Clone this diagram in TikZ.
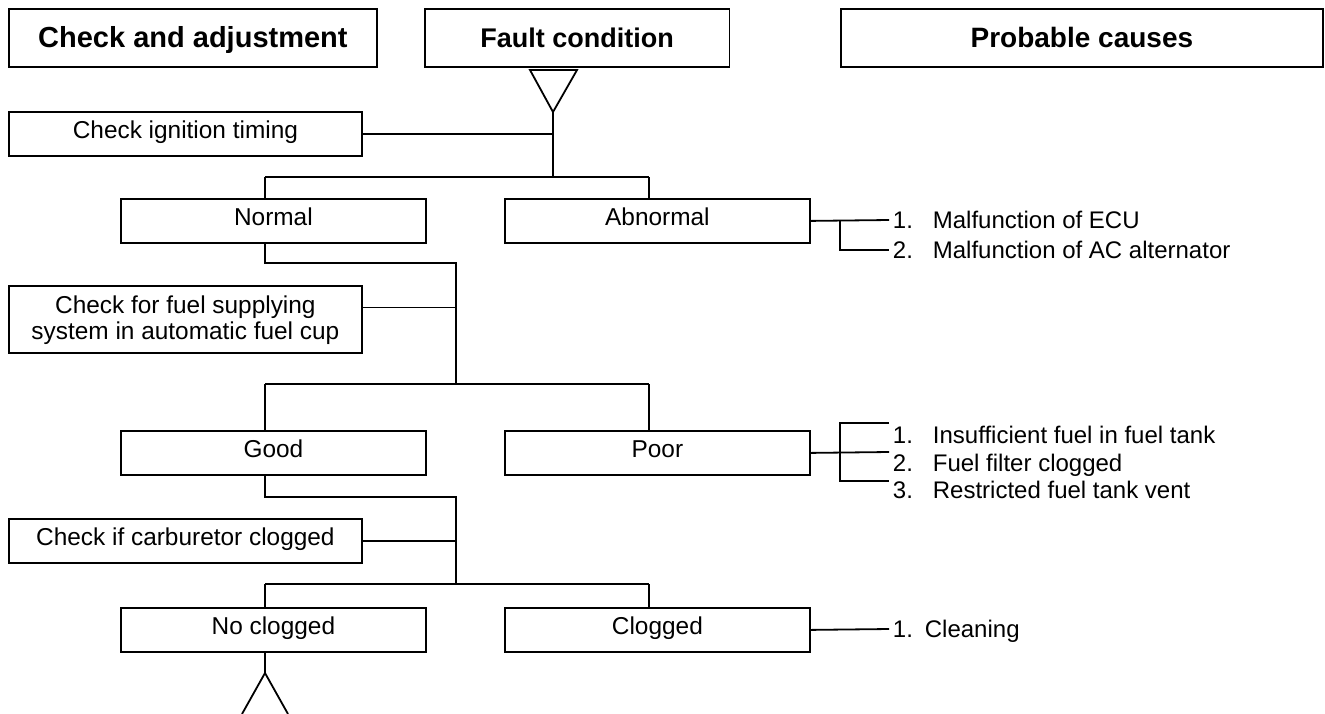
\documentclass[tikz,border=0pt]{standalone}
\usepackage{fontspec}
\setmainfont{Liberation Sans}
\begin{document}
\begin{tikzpicture}[x=1pt,y=-1pt,line width=1.8pt,
  every node/.style={inner sep=0pt},
  frame/.style={draw,line width=1.8pt,anchor=north west,align=center},
  head/.style={frame,minimum height=58pt,text height=39pt,text depth=19pt},
  checkbox/.style={frame,font=\fontsize{24.4}{26}\selectfont,minimum width=353pt,text height=26.5pt,text depth=17.5pt},
  result/.style={frame,font=\fontsize{24.4}{26}\selectfont,minimum width=305pt,text height=26.5pt,text depth=17.5pt},
  cause/.style={anchor=west,inner xsep=3pt,inner ysep=0pt,font=\fontsize{24}{26}\selectfont,text height=17.2pt,text depth=0pt}]
\useasboundingbox (0,0) rectangle (1325,713);
% headers
\node[head,minimum width=368pt,font=\bfseries\fontsize{29}{32}\selectfont] (hA) at (8,8) {Check and adjustment};
\node[head,minimum width=304.5pt,font=\bfseries\fontsize{27}{32}\selectfont] (hB) at (424,8) {Fault condition};
\node[head,minimum width=482pt,font=\bfseries\fontsize{28}{32}\selectfont] (hC) at (840,8) {Probable causes};
% boxes
\node[checkbox] (ign) at (8,111) {Check ignition timing};
\node[result] (normal) at (120,198) {Normal};
\node[result] (abnormal) at (504,198) {Abnormal};
\node[checkbox,minimum height=67pt,text height=53.5pt,text depth=13.5pt] (fuel) at (8,285) {Check for fuel supplying\\system in automatic fuel cup};
\node[result] (good) at (120,430) {Good};
\node[result] (poor) at (504,430) {Poor};
\node[checkbox] (carb) at (8,518) {Check if carburetor clogged};
\node[result] (noclog) at (120,607) {No clogged};
\node[result] (clog) at (504,607) {Clogged};
% top triangle
\coordinate (tL) at (530,70);
\coordinate (tR) at (577,70);
\coordinate (tA) at (553,112);
\draw (tL) -- (tR) -- (tA) -- cycle;
% level 1
\coordinate (s1) at (553,177);
\coordinate (b1L) at (265,177);
\coordinate (b1R) at (649,177);
\draw (tA) -- (s1);
\draw (ign.east) -- (ign.east -| tA);
\draw (b1L) -- (b1R);
\draw (b1L) -- (b1L |- normal.north);
\draw (b1R) -- (b1R |- abnormal.north);
% level 2
\coordinate (n1) at (265,263);
\coordinate (s2) at (456,263);
\coordinate (s2b) at (456,384);
\coordinate (b2L) at (265,384);
\coordinate (b2R) at (649,384);
\coordinate (fuelc) at ([yshift=12pt]fuel.east);
\draw (n1 |- normal.south) -- (n1) -- (s2) -- (s2b);
\draw (fuelc) -- (fuelc -| s2);
\draw (b2L) -- (b2R);
\draw (b2L) -- (b2L |- good.north);
\draw (b2R) -- (b2R |- poor.north);
% level 3
\coordinate (g1) at (265,497);
\coordinate (s3) at (456,497);
\coordinate (s3b) at (456,584);
\coordinate (b3L) at (265,584);
\coordinate (b3R) at (649,584);
\draw (g1 |- good.south) -- (g1) -- (s3) -- (s3b);
\draw (carb.east) -- (carb.east -| s3);
\draw (b3L) -- (b3R);
\draw (b3L) -- (b3L |- noclog.north);
\draw (b3R) -- (b3R |- clog.north);
% bottom mark
\coordinate (bA) at (265,673);
\coordinate (bl) at (242,714);
\coordinate (br) at (288,714);
\draw (bA |- noclog.south) -- (bA);
\draw (bl) -- (bA) -- (br);
% causes: abnormal
\node[cause] (ab1) at (889,220) {\makebox[40pt][l]{1.}Malfunction of ECU};
\node[cause] (ab2) at (889,250) {\makebox[40pt][l]{2.}Malfunction of AC alternator};
\coordinate (abj) at (840,220);
\draw (abnormal.east) -- (ab1.west);
\draw (abj) |- (ab2.west);
% causes: poor
\node[cause] (p1) at (889,434.5) {\makebox[40pt][l]{1.}Insufficient fuel in fuel tank};
\node[cause] (p2) at (889,463) {\makebox[40pt][l]{2.}Fuel filter clogged};
\node[cause] (p3) at (889,490) {\makebox[40pt][l]{3.}Restricted fuel tank vent};
\coordinate (pj1) at (840,423);
\coordinate (pj2) at (840,452);
\coordinate (pj3) at (840,481);
\draw (poor.east) -- (pj2 -| p2.west);
\draw (pj1 -| p1.west) -- (pj1) -- (pj3) -- (pj3 -| p3.west);
% causes: clogged
\node[cause] (cl1) at (889,629) {\makebox[32pt][l]{1.}Cleaning};
\draw (clog.east) -- (cl1.west);
\end{tikzpicture}
\end{document}
